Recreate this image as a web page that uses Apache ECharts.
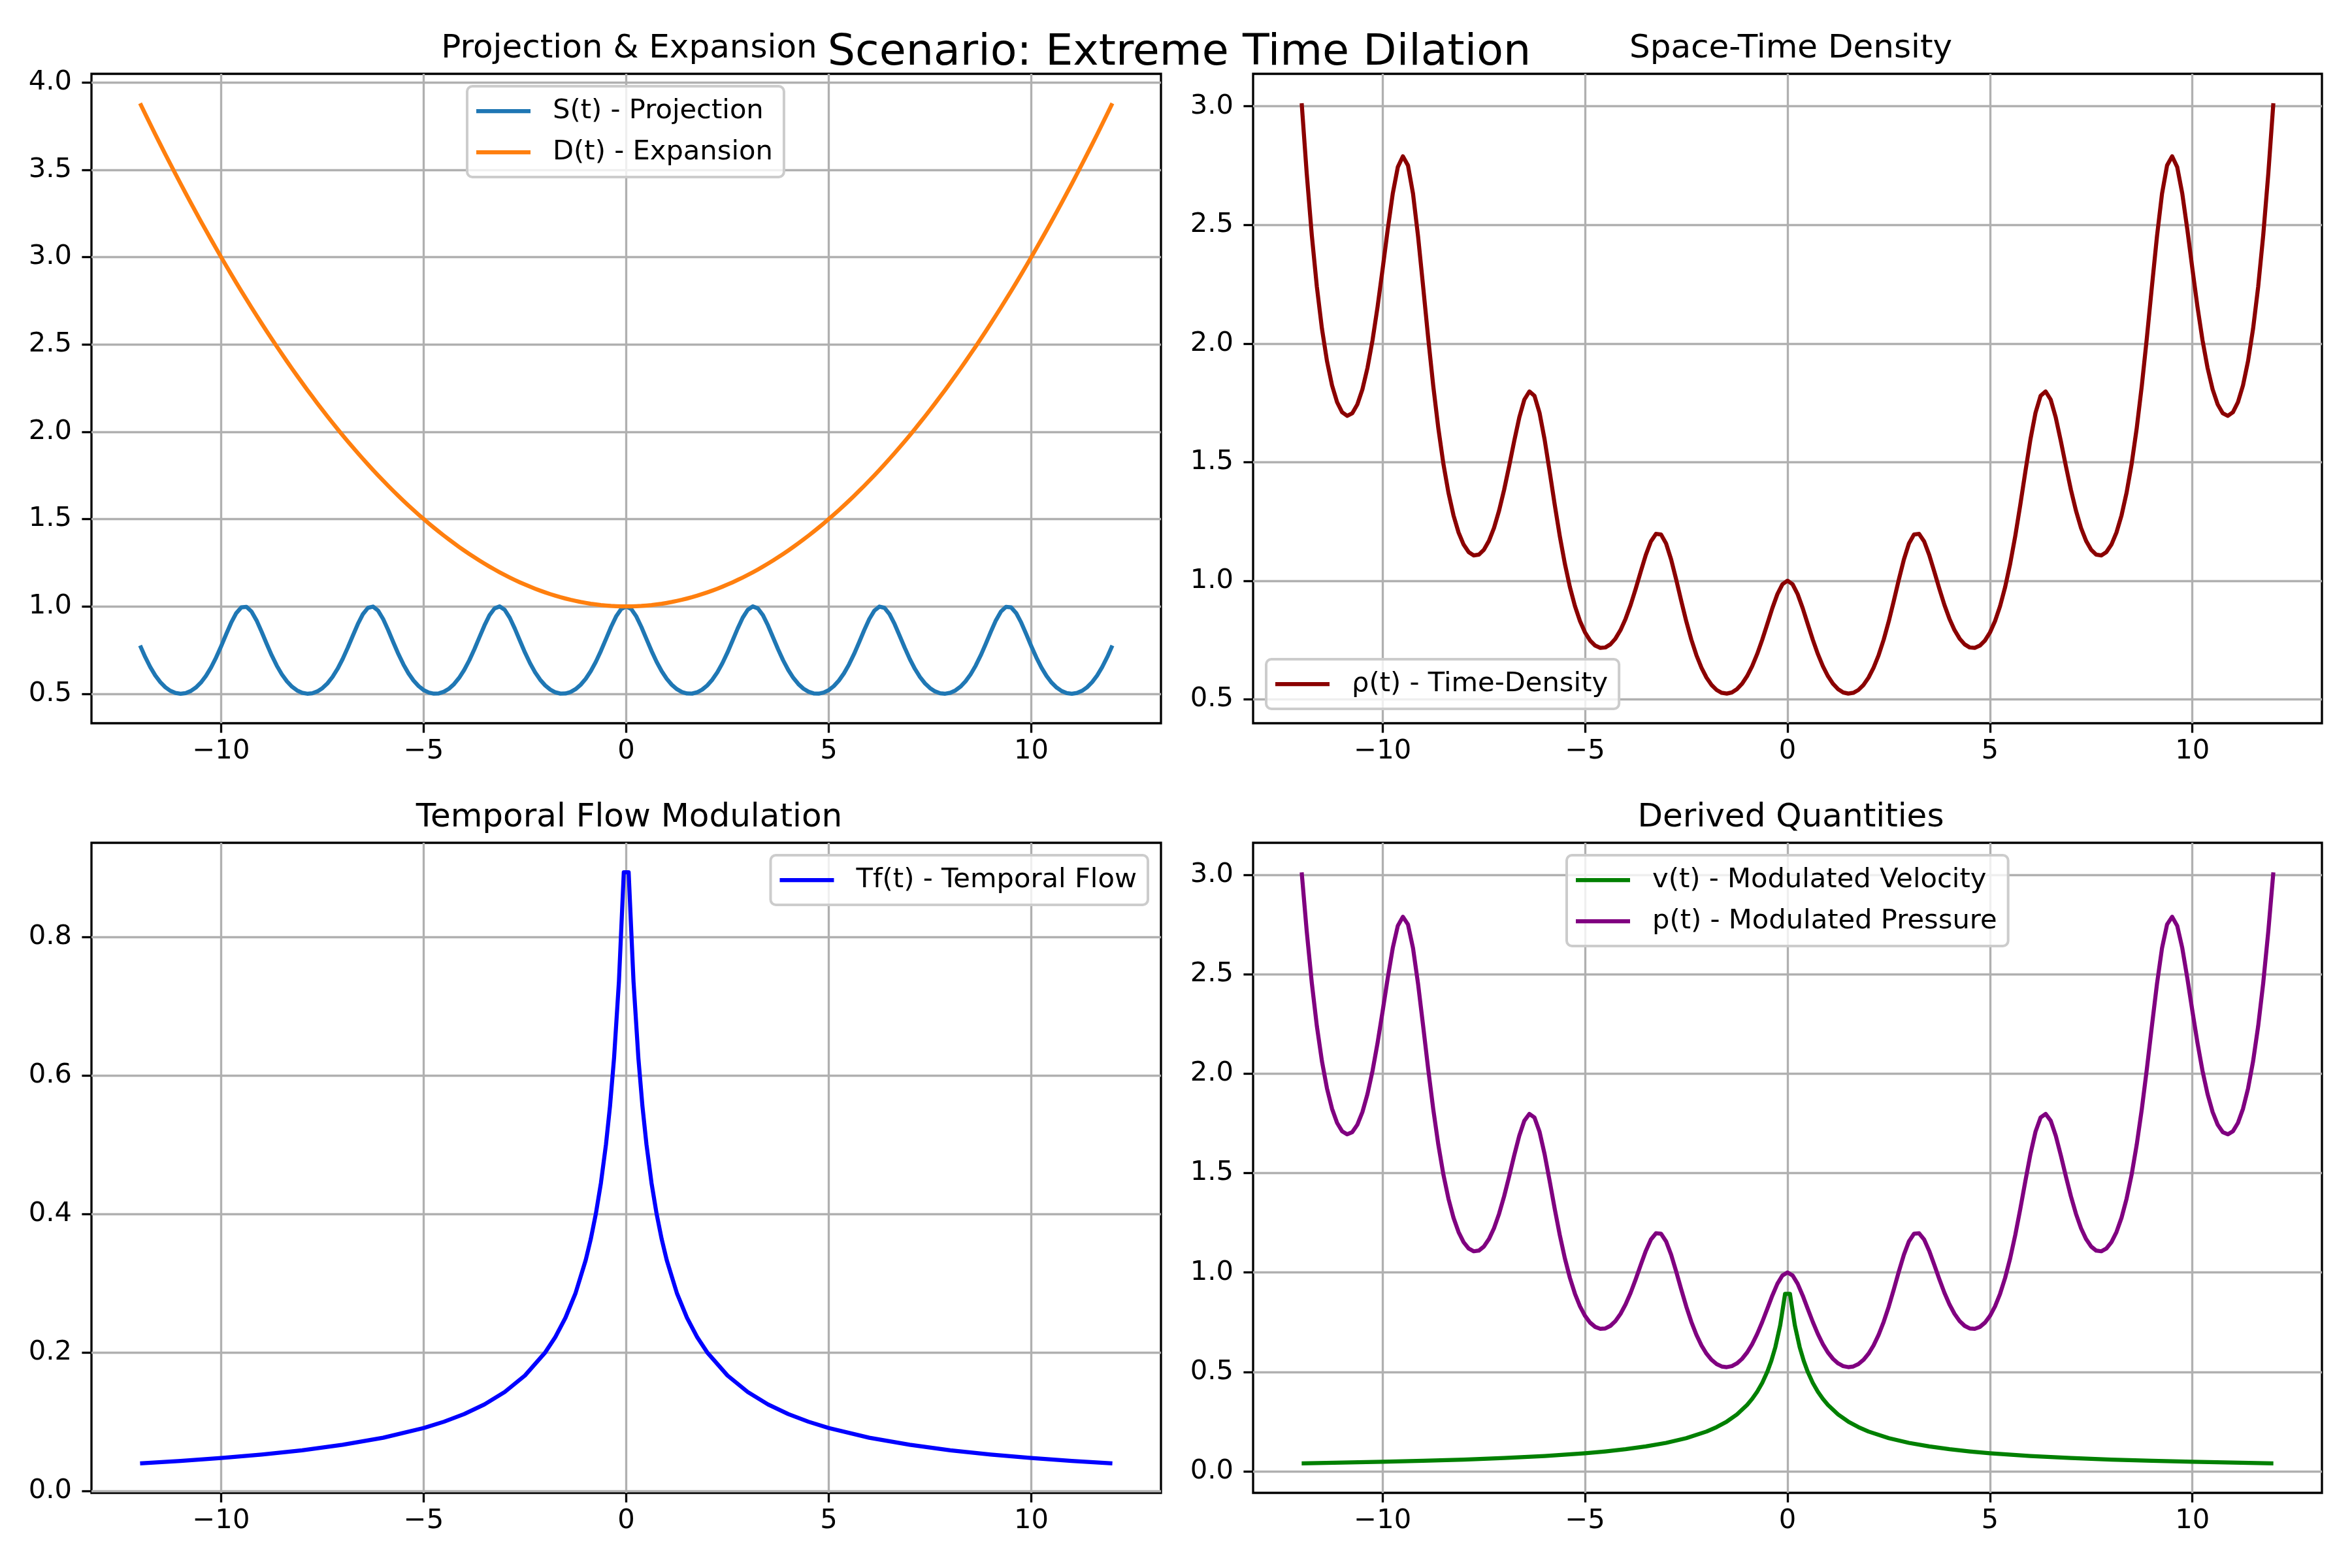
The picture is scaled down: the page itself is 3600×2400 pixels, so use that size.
<!DOCTYPE html>
<html>
<head>
<meta charset="utf-8">
<script src="https://cdn.jsdelivr.net/npm/echarts@6/dist/echarts.min.js"></script>
<style>html,body{margin:0;padding:0;background:#fff}#c{width:3600px;height:2400px}</style>
</head>
<body>
<div id="c"></div>
<script>
// ---- data ----
const tGrid = [
  -12,-11.875,-11.75,-11.625,-11.5,-11.375,-11.25,-11.125,
  -11,-10.875,-10.75,-10.625,-10.5,-10.375,-10.25,-10.125,
  -10,-9.875,-9.75,-9.625,-9.5,-9.375,-9.25,-9.125,
  -9,-8.875,-8.75,-8.625,-8.5,-8.375,-8.25,-8.125,
  -8,-7.875,-7.75,-7.625,-7.5,-7.375,-7.25,-7.125,
  -7,-6.875,-6.75,-6.625,-6.5,-6.375,-6.25,-6.125,
  -6,-5.875,-5.75,-5.625,-5.5,-5.375,-5.25,-5.125,
  -5,-4.875,-4.75,-4.625,-4.5,-4.375,-4.25,-4.125,
  -4,-3.875,-3.75,-3.625,-3.5,-3.375,-3.25,-3.125,
  -3,-2.875,-2.75,-2.625,-2.5,-2.375,-2.25,-2.125,
  -2,-1.875,-1.75,-1.625,-1.5,-1.375,-1.25,-1.125,
  -1,-0.875,-0.75,-0.625,-0.5,-0.375,-0.25,-0.125,
  0,
  0.125,0.25,0.375,0.5,0.625,0.75,0.875,1,
  1.125,1.25,1.375,1.5,1.625,1.75,1.875,2,
  2.125,2.25,2.375,2.5,2.625,2.75,2.875,3,
  3.125,3.25,3.375,3.5,3.625,3.75,3.875,4,
  4.125,4.25,4.375,4.5,4.625,4.75,4.875,5,
  5.125,5.25,5.375,5.5,5.625,5.75,5.875,6,
  6.125,6.25,6.375,6.5,6.625,6.75,6.875,7,
  7.125,7.25,7.375,7.5,7.625,7.75,7.875,8,
  8.125,8.25,8.375,8.5,8.625,8.75,8.875,9,
  9.125,9.25,9.375,9.5,9.625,9.75,9.875,10,
  10.125,10.25,10.375,10.5,10.625,10.75,10.875,11,
  11.125,11.25,11.375,11.5,11.625,11.75,11.875,12
];

const projection = [
  0.7765,0.7110,0.6532,0.6048,0.5661,0.5368,0.5164,0.5042,
  0.5000,0.5036,0.5152,0.5351,0.5637,0.6017,0.6494,0.7066,
  0.7717,0.8408,0.9074,0.9620,0.9944,0.9975,0.9707,0.9198,
  0.8548,0.7855,0.7193,0.6603,0.6106,0.5707,0.5402,0.5186,
  0.5053,0.5001,0.5027,0.5132,0.5320,0.5594,0.5960,0.6426,
  0.6985,0.7627,0.8316,0.8990,0.9558,0.9917,0.9989,0.9758,
  0.9276,0.8639,0.7947,0.7277,0.6677,0.6167,0.5755,0.5437,
  0.5210,0.5066,0.5004,0.5019,0.5114,0.5290,0.5552,0.5907,
  0.6358,0.6906,0.7538,0.8223,0.8904,0.9492,0.9884,0.9997,
  0.9805,0.9351,0.8728,0.8039,0.7363,0.6751,0.6229,0.5804,
  0.5474,0.5235,0.5081,0.5007,0.5013,0.5097,0.5262,0.5512,
  0.5854,0.6293,0.6828,0.7450,0.8131,0.8817,0.9423,0.9847,
  1.0000,
  0.9847,0.9423,0.8817,0.8131,0.7450,0.6828,0.6293,0.5854,
  0.5512,0.5262,0.5097,0.5013,0.5007,0.5081,0.5235,0.5474,
  0.5804,0.6229,0.6751,0.7363,0.8039,0.8728,0.9351,0.9805,
  0.9997,0.9884,0.9492,0.8904,0.8223,0.7538,0.6906,0.6358,
  0.5907,0.5552,0.5290,0.5114,0.5019,0.5004,0.5066,0.5210,
  0.5437,0.5755,0.6167,0.6677,0.7277,0.7947,0.8639,0.9276,
  0.9758,0.9989,0.9917,0.9558,0.8990,0.8316,0.7627,0.6985,
  0.6426,0.5960,0.5594,0.5320,0.5132,0.5027,0.5001,0.5053,
  0.5186,0.5402,0.5707,0.6106,0.6603,0.7193,0.7855,0.8548,
  0.9198,0.9707,0.9975,0.9944,0.9620,0.9074,0.8408,0.7717,
  0.7066,0.6494,0.6017,0.5637,0.5351,0.5152,0.5036,0.5000,
  0.5042,0.5164,0.5368,0.5661,0.6048,0.6532,0.7110,0.7765
];

const expansion = [
  3.88,3.8203,3.7613,3.7028,3.645,3.5878,3.5313,3.4753,
  3.42,3.3653,3.3113,3.2578,3.205,3.1528,3.1013,3.0503,
  3.0,2.9503,2.9013,2.8528,2.805,2.7578,2.7113,2.6653,
  2.62,2.5753,2.5313,2.4878,2.445,2.4028,2.3613,2.3203,
  2.28,2.2403,2.2013,2.1628,2.125,2.0878,2.0513,2.0153,
  1.98,1.9453,1.9113,1.8778,1.845,1.8128,1.7813,1.7503,
  1.72,1.6903,1.6613,1.6328,1.605,1.5778,1.5513,1.5253,
  1.5,1.4753,1.4513,1.4278,1.405,1.3828,1.3613,1.3403,
  1.32,1.3003,1.2813,1.2628,1.245,1.2278,1.2113,1.1953,
  1.18,1.1653,1.1513,1.1378,1.125,1.1128,1.1013,1.0903,
  1.08,1.0703,1.0613,1.0528,1.045,1.0378,1.0313,1.0253,
  1.02,1.0153,1.0113,1.0078,1.005,1.0028,1.0013,1.0003,
  1.0,
  1.0003,1.0013,1.0028,1.005,1.0078,1.0113,1.0153,1.02,
  1.0253,1.0313,1.0378,1.045,1.0528,1.0613,1.0703,1.08,
  1.0903,1.1013,1.1128,1.125,1.1378,1.1513,1.1653,1.18,
  1.1953,1.2113,1.2278,1.245,1.2628,1.2813,1.3003,1.32,
  1.3403,1.3613,1.3828,1.405,1.4278,1.4513,1.4753,1.5,
  1.5253,1.5513,1.5778,1.605,1.6328,1.6613,1.6903,1.72,
  1.7503,1.7813,1.8128,1.845,1.8778,1.9113,1.9453,1.98,
  2.0153,2.0513,2.0878,2.125,2.1628,2.2013,2.2403,2.28,
  2.3203,2.3613,2.4028,2.445,2.4878,2.5313,2.5753,2.62,
  2.6653,2.7113,2.7578,2.805,2.8528,2.9013,2.9503,3.0,
  3.0503,3.1013,3.1528,3.205,3.2578,3.3113,3.3653,3.42,
  3.4753,3.5313,3.5878,3.645,3.7028,3.7613,3.8203,3.88
];

const density = [
  3.0128,2.7161,2.4569,2.2395,2.0634,1.9260,1.8235,1.7523,
  1.7100,1.6949,1.7060,1.7432,1.8067,1.8972,2.0140,2.1554,
  2.3151,2.4806,2.6326,2.7443,2.7893,2.7510,2.6318,2.4515,
  2.2396,2.0230,1.8207,1.6428,1.4929,1.3713,1.2755,1.2033,
  1.1521,1.1204,1.1066,1.1100,1.1305,1.1679,1.2225,1.2949,
  1.3830,1.4836,1.5894,1.6882,1.7635,1.7977,1.7793,1.7079,
  1.5955,1.4602,1.3202,1.1882,1.0717,0.9730,0.8928,0.8293,
  0.7815,0.7475,0.7262,0.7166,0.7185,0.7315,0.7558,0.7917,
  0.8393,0.8979,0.9658,1.0385,1.1085,1.1655,1.1972,1.1950,
  1.1570,1.0897,1.0048,0.9147,0.8283,0.7513,0.6860,0.6328,
  0.5912,0.5603,0.5392,0.5272,0.5239,0.5289,0.5426,0.5652,
  0.5971,0.6389,0.6905,0.7508,0.8172,0.8842,0.9435,0.9850,
  1.0000,
  0.9850,0.9435,0.8842,0.8172,0.7508,0.6905,0.6389,0.5971,
  0.5652,0.5426,0.5289,0.5239,0.5272,0.5392,0.5603,0.5912,
  0.6328,0.6860,0.7513,0.8283,0.9147,1.0048,1.0897,1.1570,
  1.1950,1.1972,1.1655,1.1085,1.0385,0.9658,0.8979,0.8393,
  0.7917,0.7558,0.7315,0.7185,0.7166,0.7262,0.7475,0.7815,
  0.8293,0.8928,0.9730,1.0717,1.1882,1.3202,1.4602,1.5955,
  1.7079,1.7793,1.7977,1.7635,1.6882,1.5894,1.4836,1.3830,
  1.2949,1.2225,1.1679,1.1305,1.1100,1.1066,1.1204,1.1521,
  1.2033,1.2755,1.3713,1.4929,1.6428,1.8207,2.0230,2.2396,
  2.4515,2.6318,2.7510,2.7893,2.7443,2.6326,2.4806,2.3151,
  2.1554,2.0140,1.8972,1.8067,1.7432,1.7060,1.6949,1.7100,
  1.7523,1.8235,1.9260,2.0634,2.2395,2.4569,2.7161,3.0128
];

const tFlow = [-12,-11,-10,-9,-8,-7,-6,-5,-4.5,-4,-3.5,-3,-2.5,-2,-1.75,-1.5,-1.25,-1,-0.875,-0.75,-0.625,-0.5,-0.4,-0.3,-0.18,-0.06,0.06,0.18,0.3,0.4,0.5,0.625,0.75,0.875,1,1.25,1.5,1.75,2,2.5,3,3.5,4,4.5,5,6,7,8,9,10,11,12];

const temporalFlow = [0.04,0.0435,0.0476,0.0526,0.0588,0.0667,0.0769,0.0909,0.1,0.1111,0.125,0.1429,0.1667,0.2,0.2222,0.25,0.2857,0.3333,0.3636,0.4,0.4444,0.5,0.5556,0.625,0.7353,0.8929,0.8929,0.7353,0.625,0.5556,0.5,0.4444,0.4,0.3636,0.3333,0.2857,0.25,0.2222,0.2,0.1667,0.1429,0.125,0.1111,0.1,0.0909,0.0769,0.0667,0.0588,0.0526,0.0476,0.0435,0.04];

// derived quantities (same curves as Tf and rho in the picture)
const velocity = temporalFlow.slice();
const pressure = density.slice();

const xTicks = [-10, -5, 0, 5, 10];
const yTicksTL = [0.5, 1.0, 1.5, 2.0, 2.5, 3.0, 3.5, 4.0];
const yTicksTR = [0.5, 1.0, 1.5, 2.0, 2.5, 3.0];
const yTicksBL = [0.0, 0.2, 0.4, 0.6, 0.8];
const yTicksBR = [0.0, 0.5, 1.0, 1.5, 2.0, 2.5, 3.0];

const suptitle = 'Scenario: Extreme Time Dilation';
const panelTitles = ['Projection & Expansion', 'Space-Time Density', 'Temporal Flow Modulation', 'Derived Quantities'];
const names = {
  S: 'S(t) - Projection', D: 'D(t) - Expansion', rho: 'ρ(t) - Time-Density',
  Tf: 'Tf(t) - Temporal Flow', v: 'v(t) - Modulated Velocity', p: 'p(t) - Modulated Pressure'
};

// ---- chart ----
const FONT = 'DejaVu Sans';
const PT = 300 / 72;
const tickFs = 10 * PT, titleFs = 12 * PT, supFs = 16 * PT;
const gridLW = 0.8 * PT, lineW = 1.5 * PT;

const zip = (xs, ys) => xs.map((x, i) => [x, ys[i]]);
const fmtX = v => (v < 0 ? '\u2212' + Math.abs(v) : String(v));

const grids = [
  { left: 140, top: 113, width: 1637, height: 994 },
  { left: 1918, top: 113, width: 1636, height: 994 },
  { left: 140, top: 1290, width: 1637, height: 995 },
  { left: 1918, top: 1290, width: 1636, height: 995 }
].map(g => Object.assign(g, { show: true, borderColor: '#000', borderWidth: gridLW, backgroundColor: 'transparent', containLabel: false }));

function xAxisFor(i) {
  return {
    type: 'value', gridIndex: i, min: -13.2, max: 13.2,
    axisLine: { show: false, onZero: false },
    axisTick: { show: true, length: 14.6, lineStyle: { color: '#000', width: gridLW }, customValues: xTicks },
    axisLabel: { customValues: xTicks, formatter: fmtX, fontFamily: FONT, fontSize: tickFs, color: '#000', margin: 22 },
    splitLine: { show: true, lineStyle: { color: '#b0b0b0', width: gridLW } }
  };
}
function yAxisFor(i, min, max, ticks) {
  return {
    type: 'value', gridIndex: i, min: min, max: max,
    axisLine: { show: false, onZero: false },
    axisTick: { show: true, length: 14.6, lineStyle: { color: '#000', width: gridLW }, customValues: ticks },
    axisLabel: { customValues: ticks, formatter: v => v.toFixed(1), fontFamily: FONT, fontSize: tickFs, color: '#000', margin: 30 },
    splitLine: { show: true, lineStyle: { color: '#b0b0b0', width: gridLW } }
  };
}

function line(name, xi, data, color) {
  return {
    type: 'line', name: name, xAxisIndex: xi, yAxisIndex: xi, data: data,
    showSymbol: false, symbol: 'none', smooth: false, color: color,
    lineStyle: { color: color, width: lineW, join: 'round', cap: 'butt' }, z: 3
  };
}

function legend(items, pos) {
  return Object.assign({
    data: items, orient: 'vertical', icon: 'rect', itemWidth: 83, itemHeight: lineW, itemGap: 21,
    padding: [17, 17, 17, 14], backgroundColor: 'rgba(255,255,255,0.8)', borderColor: '#cccccc',
    borderWidth: 4, borderRadius: 8, selectedMode: false,
    textStyle: { fontFamily: FONT, fontSize: tickFs, color: '#000', padding: [0, 0, 0, 29], lineHeight: 42 }
  }, pos);
}

function panelTitle(text, left, top) {
  return { text: text, left: left, top: top, textAlign: 'center',
    textStyle: { fontFamily: FONT, fontWeight: 'normal', color: '#000', fontSize: titleFs } };
}

const option = {
  animation: false,
  backgroundColor: '#fff',
  title: [
    { text: suptitle, left: 1800, top: 43, textAlign: 'center', textStyle: { fontFamily: FONT, fontWeight: 'normal', color: '#000', fontSize: supFs } },
    panelTitle(panelTitles[0], 958, 45),
    panelTitle(panelTitles[1], 2736, 45),
    panelTitle(panelTitles[2], 958, 1222),
    panelTitle(panelTitles[3], 2736, 1222)
  ],
  legend: [
    legend([names.S, names.D], { left: 715, top: 132 }),
    legend([names.rho], { left: 1938, top: 1009 }),
    legend([names.Tf], { right: 1843, top: 1309 }),
    legend([names.v, names.p], { left: 2398, top: 1309 })
  ],
  grid: grids,
  xAxis: [0, 1, 2, 3].map(xAxisFor),
  yAxis: [
    yAxisFor(0, 0.331, 4.049, yTicksTL),
    yAxisFor(1, 0.399, 3.137, yTicksTR),
    yAxisFor(2, -0.00265, 0.93555, yTicksBL),
    yAxisFor(3, -0.1086, 3.1614, yTicksBR)
  ],
  series: [
    line(names.S, 0, zip(tGrid, projection), '#1f77b4'),
    line(names.D, 0, zip(tGrid, expansion), '#ff7f0e'),
    line(names.rho, 1, zip(tGrid, density), '#8b0000'),
    line(names.Tf, 2, zip(tFlow, temporalFlow), '#0000ff'),
    line(names.v, 3, zip(tFlow, velocity), '#008000'),
    line(names.p, 3, zip(tGrid, pressure), '#800080')
  ]
};

const chart = echarts.init(document.getElementById('c'), null, { renderer: 'canvas', width: 3600, height: 2400 });
chart.setOption(option);
</script>
</body>
</html>
